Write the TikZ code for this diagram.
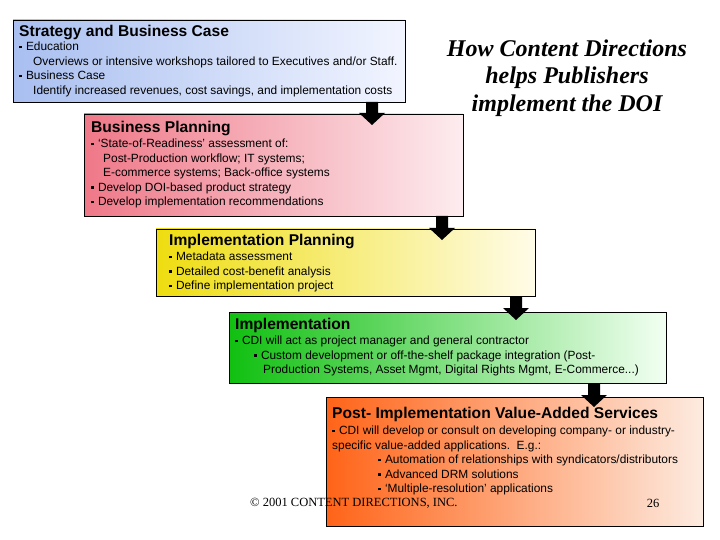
\documentclass[tikz,border=0pt]{standalone}
\usepackage{fontspec}
\setmainfont{Liberation Sans}
\newfontfamily\serif{Liberation Serif}
\newcommand{\bul}{\rule[2.5pt]{2.8pt}{2.8pt}\hspace{4pt}}
\begin{document}
\begin{tikzpicture}[x=1pt,y=-1pt,
  box/.style={draw=black,line width=0.8pt,shading=axis,shading angle=90},
  txt/.style={anchor=north west,inner sep=0pt,align=left,font=\fontsize{11.9}{14.5}\selectfont},
  head/.style={anchor=north west,inner sep=0pt,font=\fontsize{15.6}{17}\selectfont\bfseries},
  arr/.style={fill=black}]
\useasboundingbox (0,0) rectangle (720,540);
\definecolor{b1l}{HTML}{A9BFF0}\definecolor{b1r}{HTML}{F2F5FF}
\definecolor{b2l}{HTML}{EF7888}\definecolor{b2r}{HTML}{FDECEF}
\definecolor{b3l}{HTML}{EEDD10}\definecolor{b3r}{HTML}{FFFCE8}
\definecolor{b4l}{HTML}{10C010}\definecolor{b4r}{HTML}{F2FFF2}
\definecolor{b5l}{HTML}{FF6418}\definecolor{b5r}{HTML}{FDEBE0}
\newcommand{\darr}[3]{\fill[black] (#1-6,#2) -- (#1+6,#2) -- (#1+6,#3-12) -- (#1+13,#3-12) -- (#1,#3) -- (#1-13,#3-12) -- (#1-6,#3-12) -- cycle;}
% box 1
\path[box,left color=b1l,right color=b1r] (13,20) rectangle (405,102);
\node[head] (h1) at (19,25) {Strategy and Business Case};
\node[txt] (t1) at (19,42) {\bul Education\\\hspace{14pt}Overviews or intensive workshops tailored to Executives and/or Staff.\\\bul Business Case\\\hspace{14pt}Identify increased revenues, cost savings, and implementation costs};
% title
\node[font=\serif\fontsize{24}{27.5}\selectfont\bfseries\itshape,align=center] (title) at (567,78) {How Content Directions\\helps Publishers\\implement the DOI};
% box 2
\path[box,left color=b2l,right color=b2r] (84,114) rectangle (463,216);
\darr{372}{102}{125}
\node[head] (h2) at (91,121) {Business Planning};
\node[txt] (t2) at (91,139) {\bul `State-of-Readiness' assessment of:\\\hspace{12pt}Post-Production workflow; IT systems;\\\hspace{12pt}E-commerce systems; Back-office systems\\\bul Develop DOI-based product strategy\\\bul Develop implementation recommendations};
% box 3
\path[box,left color=b3l,right color=b3r] (156,229) rectangle (535,296);
\darr{442}{216}{240}
\node[head] (h3) at (169,234) {Implementation Planning};
\node[txt] (t3) at (169,252) {\bul Metadata assessment\\\bul Detailed cost-benefit analysis\\\bul Define implementation project};
% box 4
\path[box,left color=b4l,right color=b4r] (229,312) rectangle (666,383);
\darr{516}{296}{320}
\node[head] (h4) at (235,318) {Implementation};
\node[txt] (t4) at (235,336) {\bul CDI will act as project manager and general contractor\\\hspace{19pt}\bul Custom development or off-the-shelf package integration (Post-\\\hspace{28pt}Production Systems, Asset Mgmt, Digital Rights Mgmt, E-Commerce...)};
% box 5
\path[box,left color=b5l,right color=b5r] (326,397) rectangle (703,526);
\darr{594}{383}{407}
\node[head] (h5) at (332,407) {Post- Implementation Value-Added Services};
\node[txt] (t5) at (332,426) {\bul CDI will develop or consult on developing company- or industry-\\specific value-added applications.\ \ E.g.:\\\hspace{46pt}\bul Automation of relationships with syndicators/distributors\\\hspace{46pt}\bul Advanced DRM solutions\\\hspace{46pt}\bul `Multiple-resolution' applications};
% footer
\node[font=\serif\fontsize{12.5}{14}\selectfont,anchor=west,inner sep=0pt] (foot) at (250,503) {© 2001 CONTENT DIRECTIONS, INC.};
\node[font=\serif\fontsize{12.5}{14}\selectfont,inner sep=0pt] (page) at (653,503) {26};
\end{tikzpicture}
\end{document}
